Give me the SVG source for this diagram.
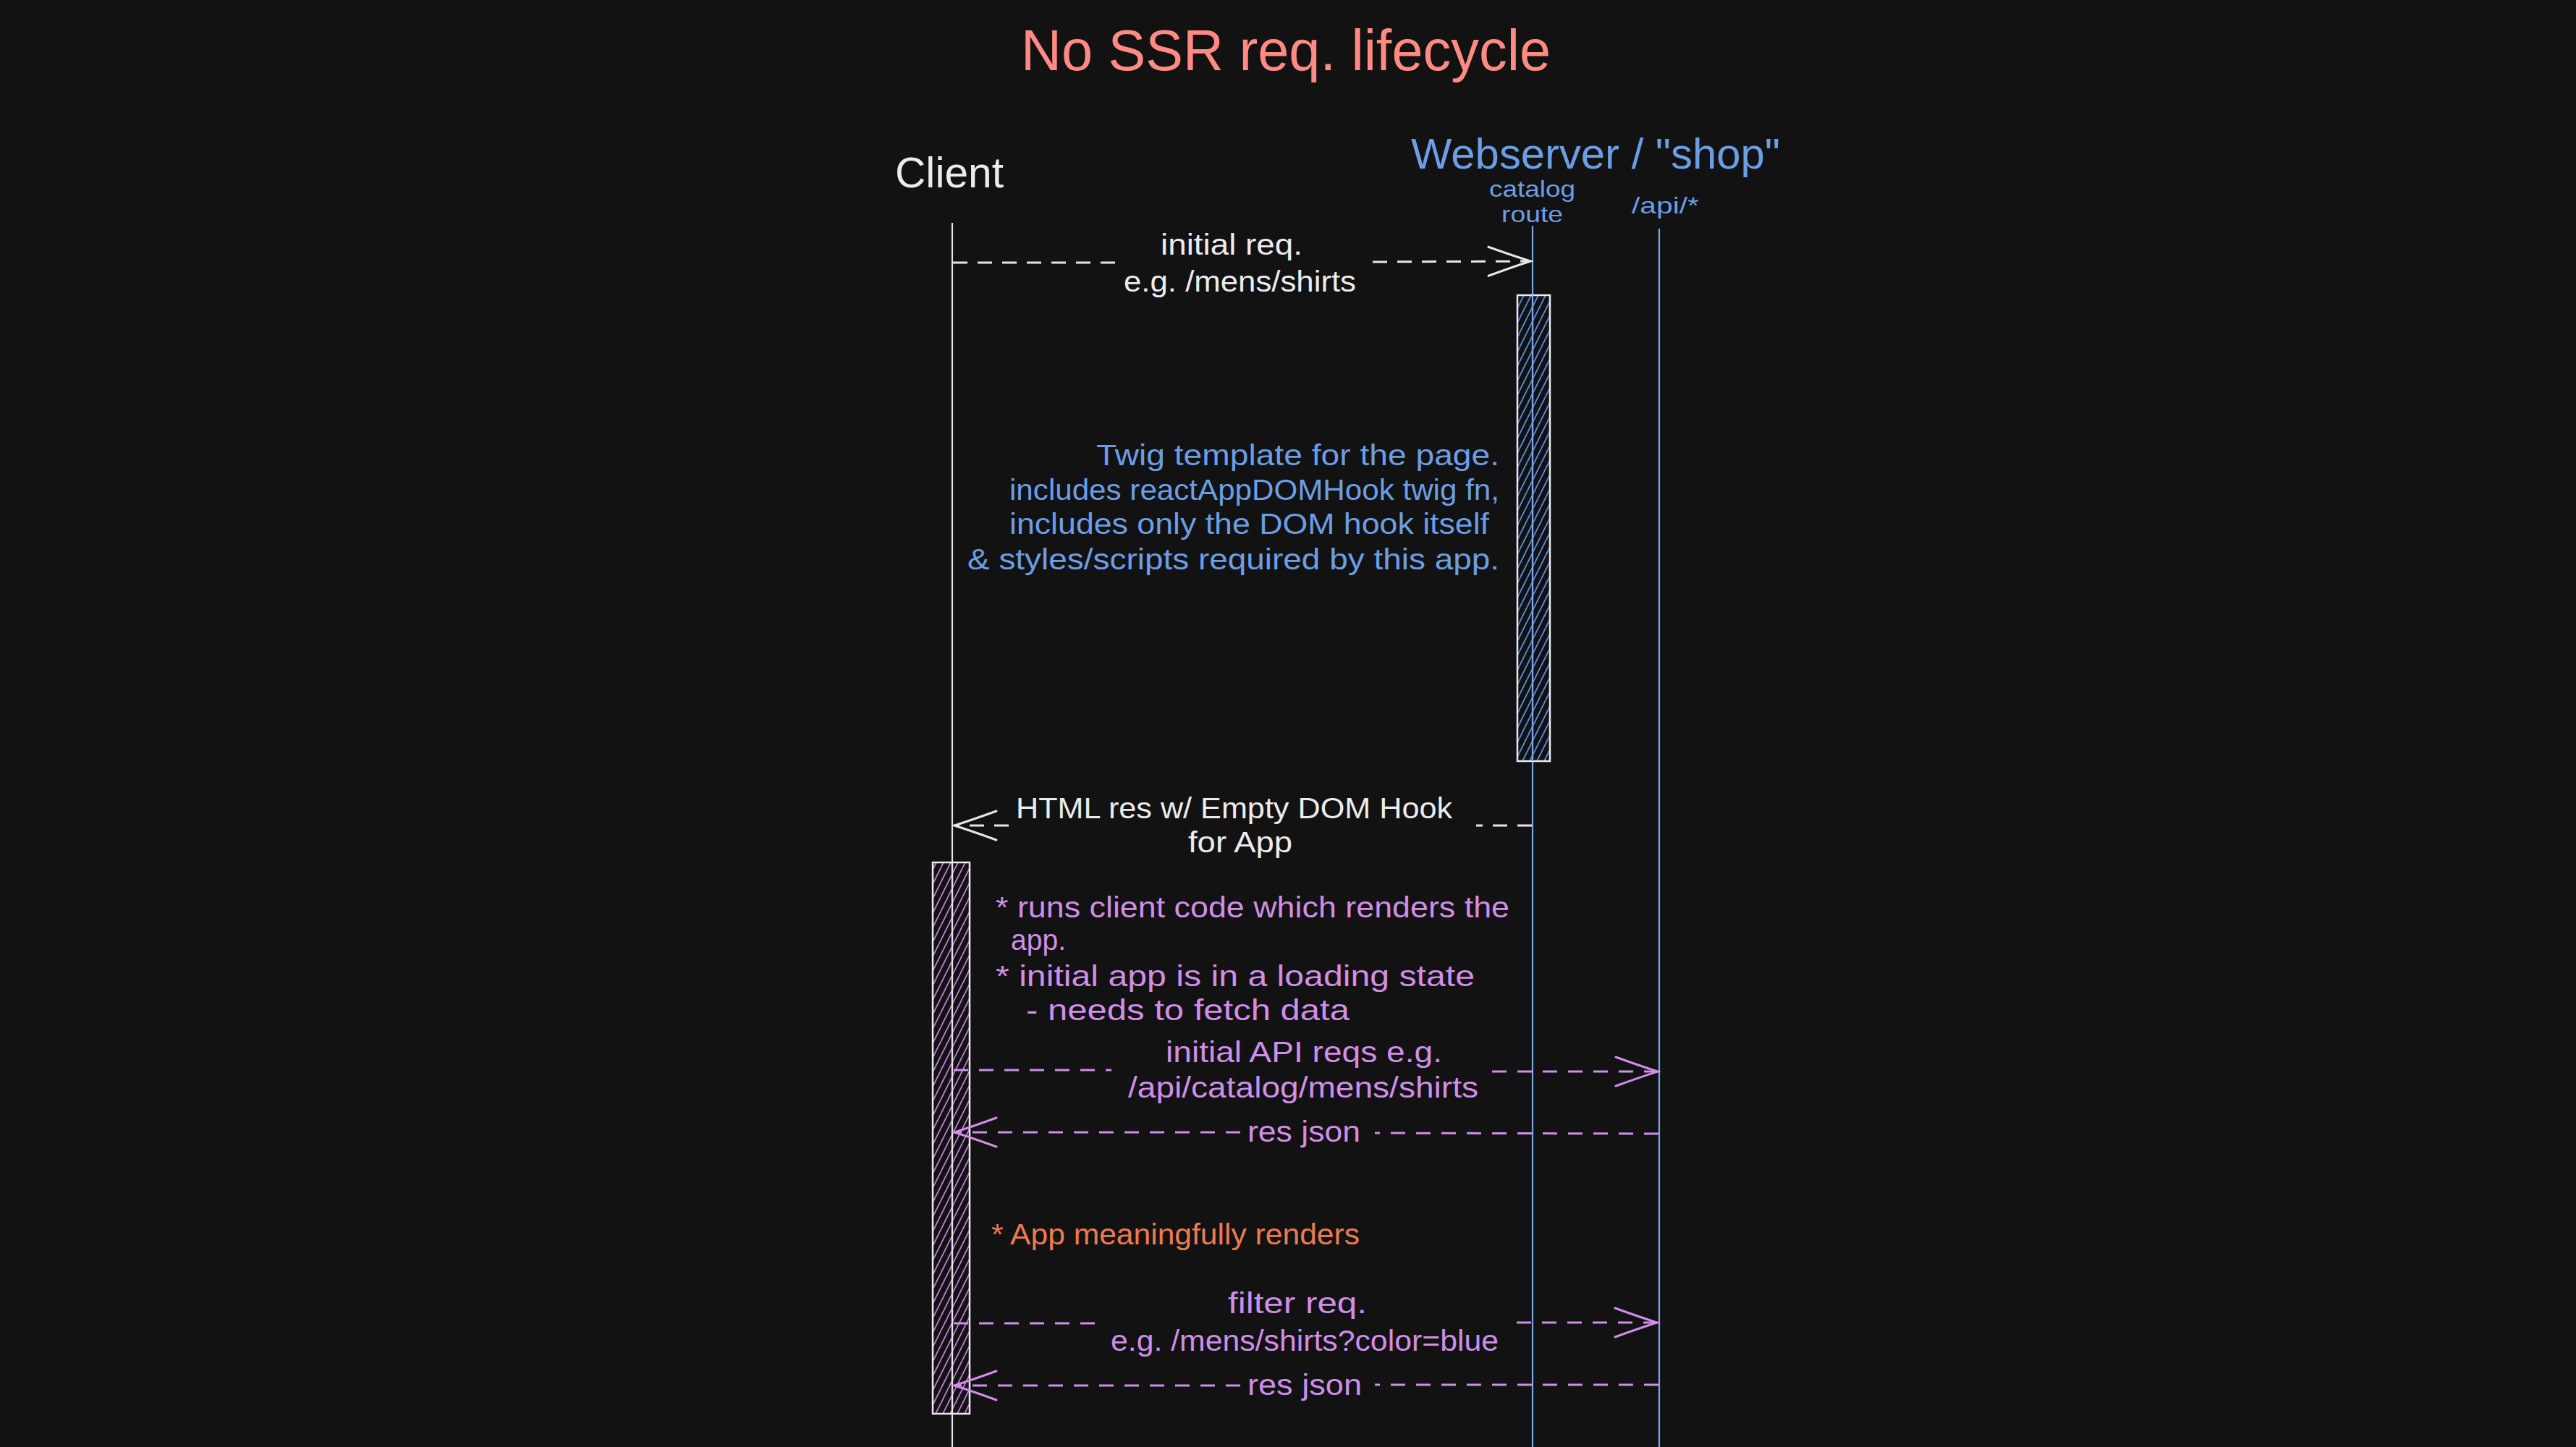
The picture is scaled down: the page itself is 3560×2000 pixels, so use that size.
<svg xmlns="http://www.w3.org/2000/svg" width="3560" height="2000" viewBox="0 0 3560 2000">
<style>
text{font-family:"Liberation Sans","DejaVu Sans",sans-serif}
.title{fill:#ff8a84;font-size:80px}
.head{font-size:60px}
.w{fill:#ececec}
.b{fill:#6c9ee6}
.p{fill:#d08ee8}
.o{fill:#ec7b50}
.t{font-size:41px}
.s{font-size:32px}
.life{fill:none;stroke-width:2.2}
.msgw{fill:none;stroke:#e6e6e6;stroke-width:3;stroke-dasharray:20 14}
.msgp{fill:none;stroke:#d08ee8;stroke-width:3;stroke-dasharray:20 15}
.box{stroke:#ececec;stroke-width:2.5}
</style>
<defs>
<pattern id="hatchB" patternUnits="userSpaceOnUse" width="10" height="20">
<path d="M-5 10 L0 0 M0 20 L10 0 M10 20 L15 10" stroke="#5c8de6" stroke-width="1.8"/>
</pattern>
<pattern id="hatchP" patternUnits="userSpaceOnUse" width="10" height="20">
<path d="M-5 10 L0 0 M0 20 L10 0 M10 20 L15 10" stroke="#c27ce0" stroke-width="1.8"/>
</pattern>
<marker id="arrW" markerUnits="userSpaceOnUse" viewBox="-64 -26 70 52" markerWidth="70" markerHeight="52" refX="0" refY="0" orient="auto">
<path d="M-58 -20 Q-25 -8 0 0 Q-25 8 -58 20" fill="none" stroke="#e6e6e6" stroke-width="3" stroke-linecap="round"/>
</marker>
<marker id="arrP" markerUnits="userSpaceOnUse" viewBox="-64 -26 70 52" markerWidth="70" markerHeight="52" refX="0" refY="0" orient="auto">
<path d="M-58 -20 Q-25 -8 0 0 Q-25 8 -58 20" fill="none" stroke="#d08ee8" stroke-width="3" stroke-linecap="round"/>
</marker>
</defs>
<rect x="0" y="0" width="3560" height="2000" fill="#121212"/>
<text class="title" x="1411" y="97" textLength="732" lengthAdjust="spacingAndGlyphs">No SSR req. lifecycle</text>

<g id="client">
<text class="head w" x="1237" y="259" textLength="150" lengthAdjust="spacingAndGlyphs">Client</text>
<line class="life" x1="1316" y1="308" x2="1316" y2="2000" stroke="#e6e6e6"/>
</g>

<g id="webserver">
<text class="head b" x="1950" y="233" textLength="510" lengthAdjust="spacingAndGlyphs">Webserver / "shop"</text>
</g>

<g id="catalog-route">
<text class="s b" x="2058" y="272" textLength="119" lengthAdjust="spacingAndGlyphs">catalog</text>
<text class="s b" x="2075" y="307" textLength="85" lengthAdjust="spacingAndGlyphs">route</text>
<line class="life" x1="2118" y1="312" x2="2118" y2="2000" stroke="#7aa7ea"/>
</g>

<g id="api">
<text class="s b" x="2255" y="295" textLength="93" lengthAdjust="spacingAndGlyphs">/api/*</text>
<line class="life" x1="2293" y1="316" x2="2293" y2="2000" stroke="#7aa7ea"/>
</g>

<g id="server-activation">
<rect x="2097" y="408" width="45" height="644" fill="url(#hatchB)" class="box"/>
<line x1="2118" y1="408" x2="2118" y2="1052" stroke="#7aa7ea" stroke-width="2.2"/>
</g>

<g id="client-activation">
<rect x="1289" y="1192" width="51" height="762" fill="url(#hatchP)" class="box"/>
<line x1="1316" y1="1192" x2="1316" y2="1954" stroke="#e6e6e6" stroke-width="2.2"/>
</g>

<g id="twig-note">
<text class="t b" x="1515" y="643" textLength="557" lengthAdjust="spacingAndGlyphs">Twig template for the page.</text>
<text class="t b" x="1395" y="691" textLength="677" lengthAdjust="spacingAndGlyphs">includes reactAppDOMHook twig fn,</text>
<text class="t b" x="1395" y="738" textLength="663" lengthAdjust="spacingAndGlyphs">includes only the DOM hook itself</text>
<text class="t b" x="1337" y="787" textLength="735" lengthAdjust="spacingAndGlyphs">&amp; styles/scripts required by this app.</text>
</g>

<g id="client-note">
<text class="t p" x="1376" y="1268" textLength="710" lengthAdjust="spacingAndGlyphs">* runs client code which renders the</text>
<text class="t p" x="1397" y="1313" textLength="76" lengthAdjust="spacingAndGlyphs">app.</text>
<text class="t p" x="1376" y="1363" textLength="662" lengthAdjust="spacingAndGlyphs">* initial app is in a loading state</text>
<text class="t p" x="1418" y="1410" textLength="447" lengthAdjust="spacingAndGlyphs">- needs to fetch data</text>
</g>

<g id="render-note">
<text class="t o" x="1370" y="1720" textLength="509" lengthAdjust="spacingAndGlyphs">* App meaningfully renders</text>
</g>

<g id="connectors">
<path class="msgw" d="M1317 363 L1541 363"/>
<path class="msgw" d="M1897 362 L2115 361" marker-end="url(#arrW)"/>
<text class="t w" x="1604" y="352" textLength="196" lengthAdjust="spacingAndGlyphs">initial req.</text>
<text class="t w" x="1553" y="403" textLength="321" lengthAdjust="spacingAndGlyphs">e.g. /mens/shirts</text>

<path class="msgw" d="M2117 1141 L2040 1141"/>
<path class="msgw" d="M1394 1141 L1319 1141" marker-end="url(#arrW)"/>
<text class="t w" x="1404" y="1131" textLength="603" lengthAdjust="spacingAndGlyphs">HTML res w/ Empty DOM Hook</text>
<text class="t w" x="1642" y="1178" textLength="144" lengthAdjust="spacingAndGlyphs">for App</text>

<path class="msgp" d="M1318 1479 L1536 1479"/>
<path class="msgp" d="M2062 1481 L2291 1481" marker-end="url(#arrP)"/>
<text class="t p" x="1611" y="1468" textLength="382" lengthAdjust="spacingAndGlyphs">initial API reqs e.g.</text>
<text class="t p" x="1559" y="1517" textLength="484" lengthAdjust="spacingAndGlyphs">/api/catalog/mens/shirts</text>

<path class="msgp" d="M2292 1567 L1900 1566"/>
<path class="msgp" d="M1714 1565 L1319 1565" marker-end="url(#arrP)"/>
<text class="t p" x="1724" y="1578" textLength="156" lengthAdjust="spacingAndGlyphs">res json</text>

<path class="msgp" d="M1318 1829 L1524 1829"/>
<path class="msgp" d="M2096 1828 L2290 1828" marker-end="url(#arrP)"/>
<text class="t p" x="1697" y="1815" textLength="192" lengthAdjust="spacingAndGlyphs">filter req.</text>
<text class="t p" x="1535" y="1867" textLength="536" lengthAdjust="spacingAndGlyphs">e.g. /mens/shirts?color=blue</text>

<path class="msgp" d="M2292 1914 L1900 1914"/>
<path class="msgp" d="M1714 1915 L1319 1915" marker-end="url(#arrP)"/>
<text class="t p" x="1724" y="1928" textLength="158" lengthAdjust="spacingAndGlyphs">res json</text>
</g>
</svg>
